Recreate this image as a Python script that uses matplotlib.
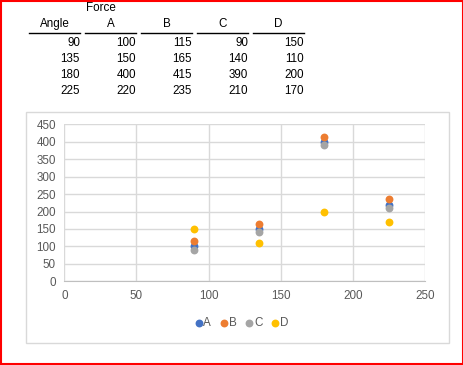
import matplotlib.pyplot as plt
from matplotlib.patches import Rectangle
from matplotlib.lines import Line2D

angles = [90, 135, 180, 225]
force_a = [100, 150, 400, 220]
force_b = [115, 165, 415, 235]
force_c = [90, 140, 390, 210]
force_d = [150, 110, 200, 170]
series_names = ["A", "B", "C", "D"]
colors = ['#4472C4', '#ED7D31', '#A5A5A5', '#FFC000']

W, H = 464, 365
plt.rcParams['font.family'] = 'Liberation Sans'

fig = plt.figure(figsize=(W / 100, H / 100), dpi=100)
fig.patch.set_facecolor('white')


def px(x, y):
    return x / W, 1 - y / H


# red outer border (inset a little so every side shows)
bx0, by1 = px(1, 1)
bx1, by0 = px(W - 1, H - 1)
fig.add_artist(Rectangle((bx0, by0), bx1 - bx0, by1 - by0, transform=fig.transFigure,
                         fill=False, edgecolor='red', linewidth=1.5))

# worksheet table
txt = dict(fontsize=8.4, color='black', va='center')
fig.text(*px(86, 8), "Force", ha='left', **txt)
col_right = [80, 136, 192, 248, 304]
headers = ["Angle"] + series_names
columns = [angles, force_a, force_b, force_c, force_d]
for right, head, col in zip(col_right, headers, columns):
    fig.text(*px(right - 25.5, 24), head, ha='center', **txt)
    x0, y0 = px(right - 51, 32.5)
    x1, _ = px(right, 32.5)
    fig.add_artist(Line2D([x0, x1], [y0, y0], transform=fig.transFigure,
                          color='black', linewidth=1.0))
    for i, v in enumerate(col):
        fig.text(*px(right, 43 + 16 * i), str(v), ha='right', **txt)

# chart area frame
cx0, cy1 = px(26.5, 112)
cx1, cy0 = px(449, 343)
fig.add_artist(Rectangle((cx0, cy0), cx1 - cx0, cy1 - cy0, transform=fig.transFigure,
                         fill=False, edgecolor='#d9d9d9', linewidth=1))

ax = fig.add_axes([64.3 / W, 1 - 281.3 / H, (425 - 64.3) / W, (281.3 - 124.3) / H])
for name, vals, c in zip(series_names, [force_a, force_b, force_c, force_d], colors):
    ax.scatter(angles, vals, s=32, color=c, label=name, zorder=3, linewidths=0)

ax.set_xlim(0, 250)
ax.set_ylim(0, 450)
ax.set_xticks(range(0, 251, 50))
ax.set_yticks(range(0, 451, 50))
ax.grid(True, color='#d9d9d9', linewidth=1)
ax.set_axisbelow(True)
for s in ['top', 'right', 'left']:
    ax.spines[s].set_visible(False)
ax.spines['bottom'].set_color('#bfbfbf')
ax.tick_params(length=0, labelsize=8.4, labelcolor='#595959', pad=6)

ax.legend(loc='center', bbox_to_anchor=(px(240, 323)), bbox_transform=fig.transFigure,
          ncol=4, frameon=False, fontsize=8.4, labelcolor='#595959', handletextpad=-0.2,
          columnspacing=0.5, markerscale=1.0, handlelength=1.2)

fig.savefig('out.png', dpi=100, facecolor='white')
